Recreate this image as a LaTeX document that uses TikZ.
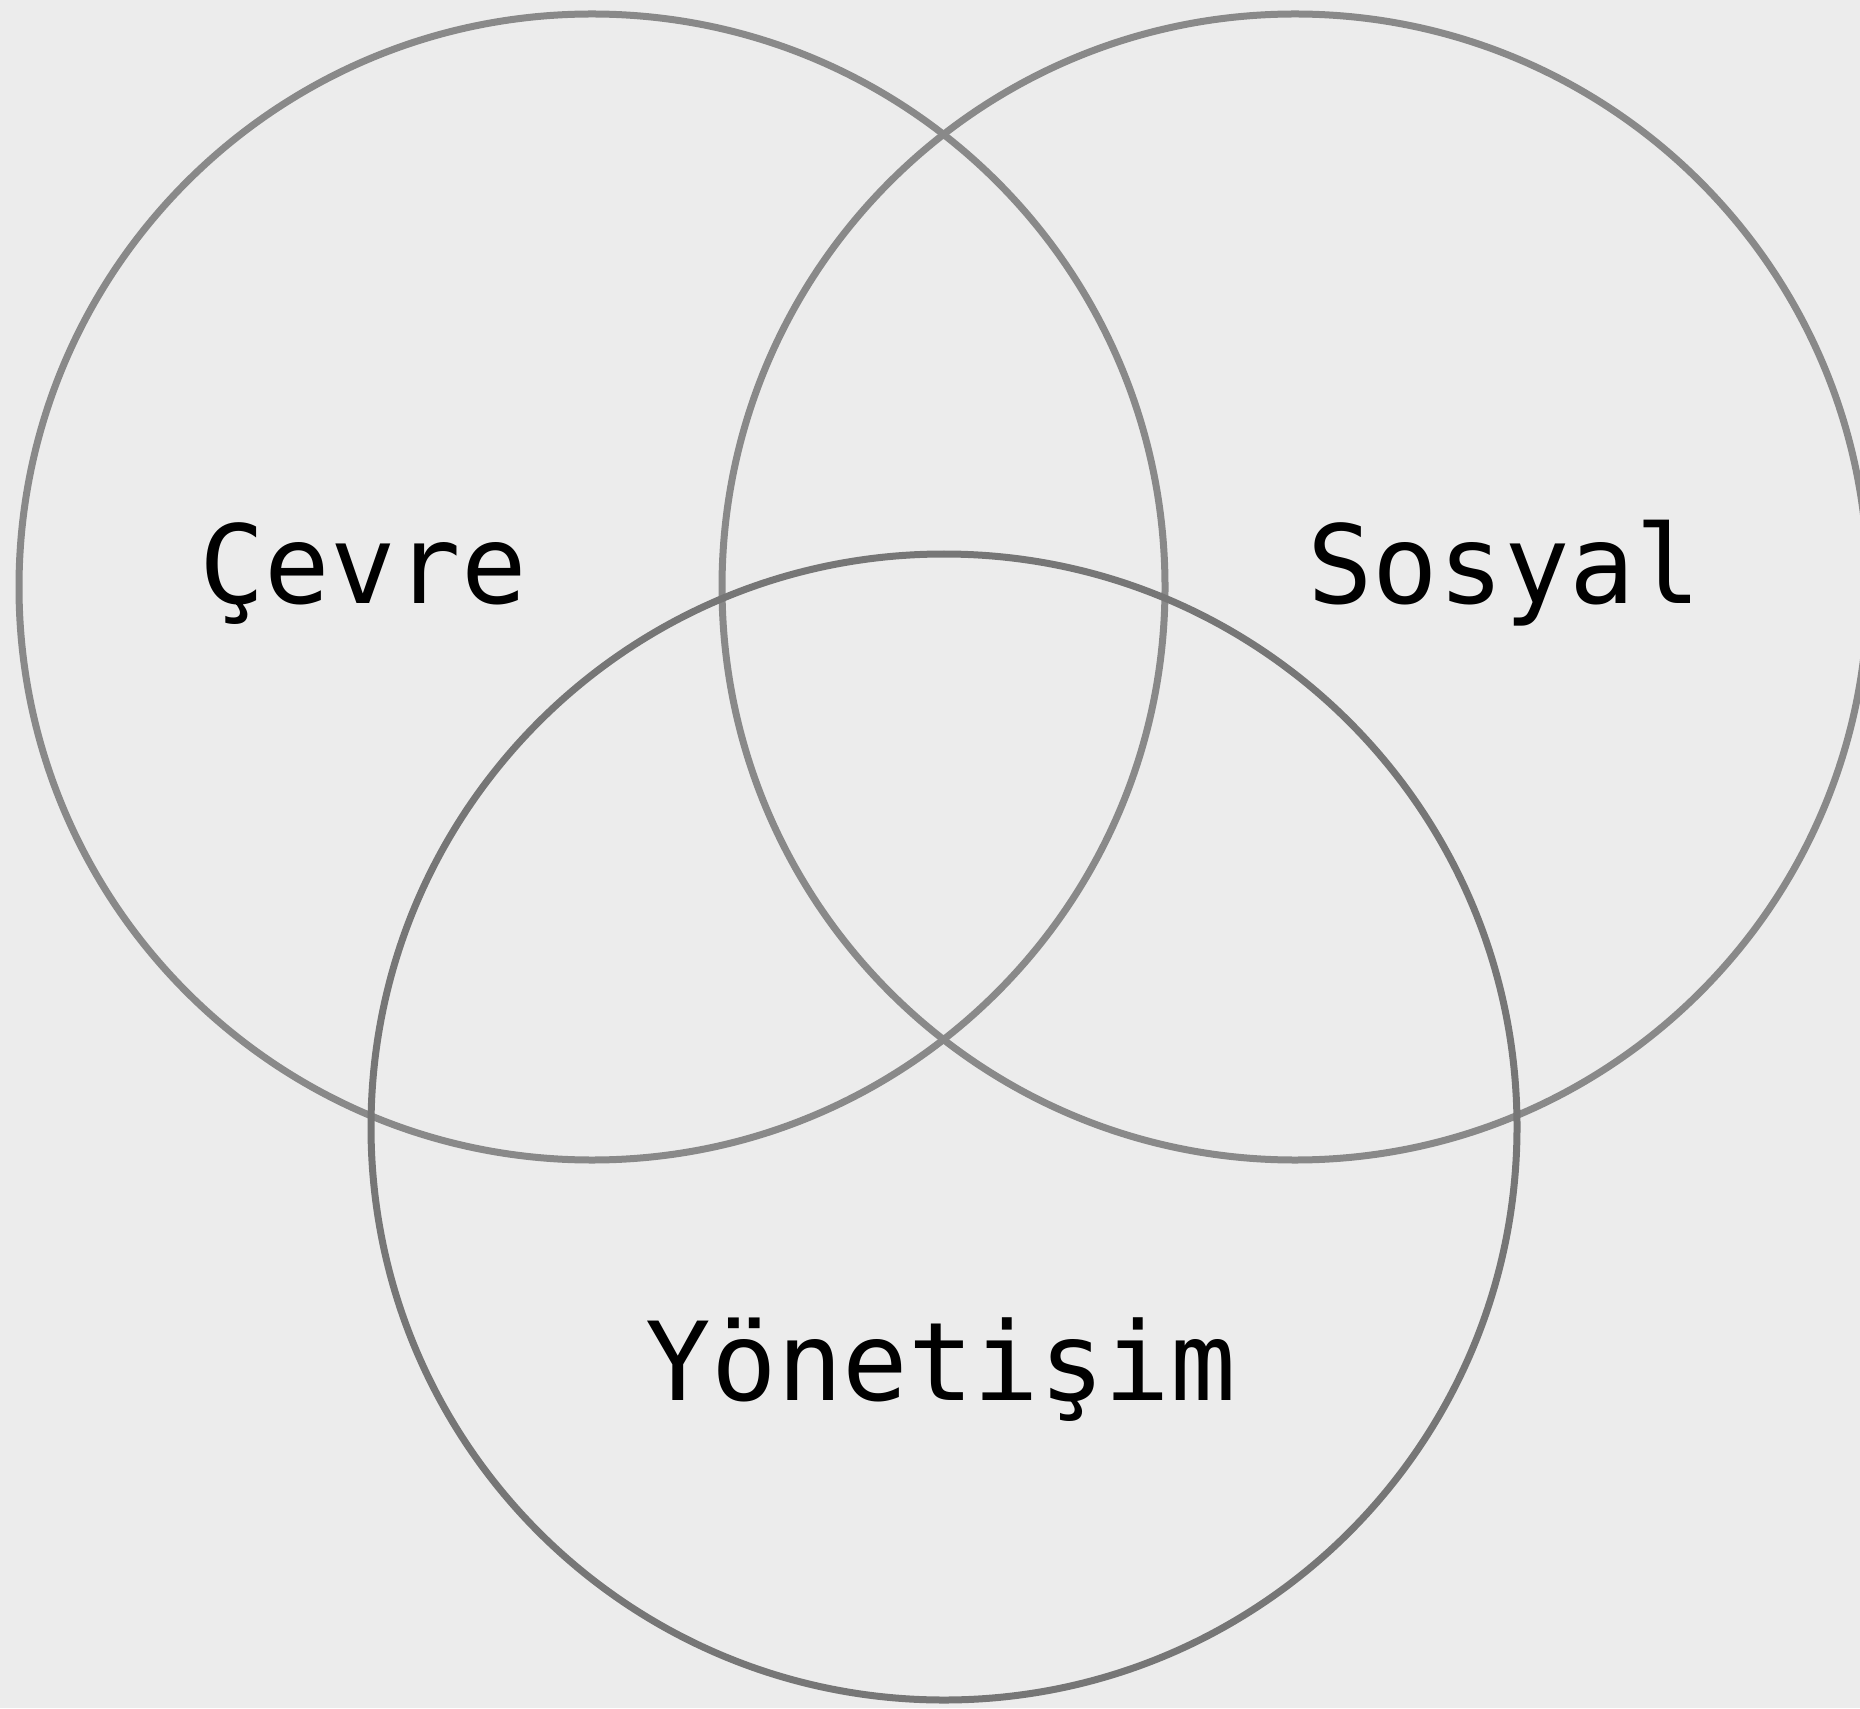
\documentclass[tikz,border=0pt]{standalone}
\usepackage{fontspec}
\setmonofont{DejaVu Sans Mono}
\usepackage{tikz}
\usetikzlibrary{positioning}
\definecolor{bgGray}{HTML}{ECECEC}
\definecolor{ringGray}{HTML}{898989}
\definecolor{ringDark}{HTML}{767676}

\begin{document}
\begin{tikzpicture}[
  x=1cm, y=1cm,
  ring/.style={draw=ringGray, line width=0.7mm},
  ringlow/.style={draw=ringDark, line width=0.7mm},
  lbl/.style={anchor=base, inner sep=0pt, font=\ttfamily\fontsize{31}{35}\selectfont}
]
%% ─── Canvas ────────────────────────────────────────────────────────────────
\fill[bgGray] (0,0) rectangle (18.6,17.08);
\useasboundingbox (0,0) rectangle (18.6,17.08);
\clip (0,0) rectangle (18.6,17.08);
%% ─── Circles ───────────────────────────────────────────────────────────────
\draw[ring]    (5.92, 11.21) circle (5.73);
\draw[ring]    (12.95,11.21) circle (5.73);
\draw[ringlow] (9.44, 5.81)  circle (5.73);
%% ─── Labels ────────────────────────────────────────────────────────────────
\node[lbl] (cevre)   at (3.63, 11.05) {Çevre};
\node[lbl] (sosyal)  at (15.04,11.05) {Sosyal};
\node[lbl] (yonetim) at (9.41, 3.08)  {Yönetişim};
\end{tikzpicture}
\end{document}
